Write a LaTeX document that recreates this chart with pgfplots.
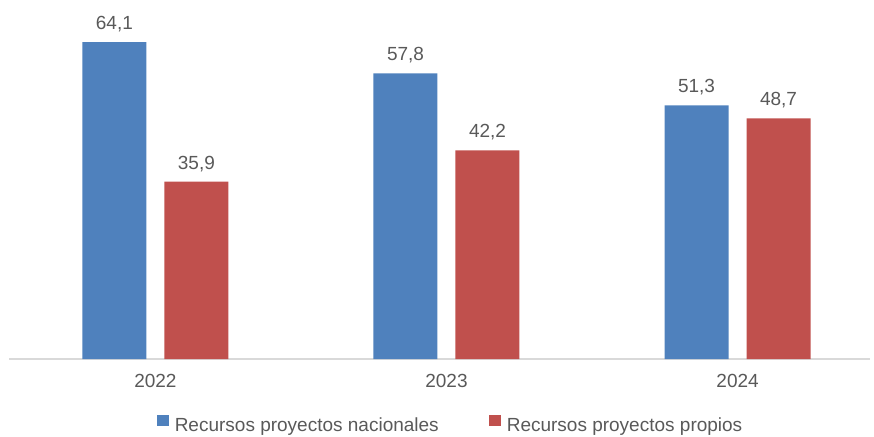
\documentclass[border=0pt]{standalone}
\usepackage{fontspec}
\setmainfont{Liberation Sans}
\usepackage{pgfplots}
\pgfplotsset{compat=1.18}
\definecolor{azul}{HTML}{4F81BD}
\definecolor{rojo}{HTML}{C0504D}
\definecolor{texto}{HTML}{595959}
\definecolor{linea}{HTML}{D9D9D9}
\newcommand\lbl{\fontsize{19pt}{22pt}\selectfont}
\begin{document}
\begin{tikzpicture}
\begin{axis}[%
name=a,
scale only axis,
width=861pt,
height=346pt,
ybar=18pt,
bar width=64pt,
xmin=-0.503,
xmax=2.455,
ymin=0,
ymax=70,
xtick=data,
xticklabels={2022,2023,2024},
ytick=\empty,
major tick length=0pt,
axis x line*=bottom,
axis y line=none,
x axis line style={draw=linea,line width=2pt,-},
xticklabel style={font=\lbl,text=texto,yshift=-12pt},
nodes near coords,
every node near coord/.append style={font=\lbl,text=texto,yshift=6.5pt},
/pgf/number format/.cd,use comma,fixed,fixed zerofill,precision=1,assume math mode=true,
/pgfplots/.cd,
legend columns=2,
legend style={draw=none,fill=none,font=\lbl,text=texto,
  at={(rel axis cs:0.5128,-0.191)},anchor=center,
  /tikz/every even column/.append style={column sep=48pt}},
legend image code/.code={\fill[#1] (0pt,-1pt) rectangle (12pt,10pt); \path (16pt,0pt);},
]
\addplot [fill=azul,draw=none] coordinates {(0,64.1) (1,57.8) (2,51.3)};
\addlegendentry{Recursos proyectos nacionales}
\addplot [fill=rojo,draw=none] coordinates {(0,35.9) (1,42.2) (2,48.7)};
\addlegendentry{Recursos proyectos propios}
\end{axis}
\pgfresetboundingbox
\path (a.south west) ++(-9pt,-77pt) coordinate (bl);
\path (a.north east) ++(4pt,13pt) coordinate (tr);
\path[use as bounding box] (bl) rectangle (tr);
\end{tikzpicture}
\end{document}
